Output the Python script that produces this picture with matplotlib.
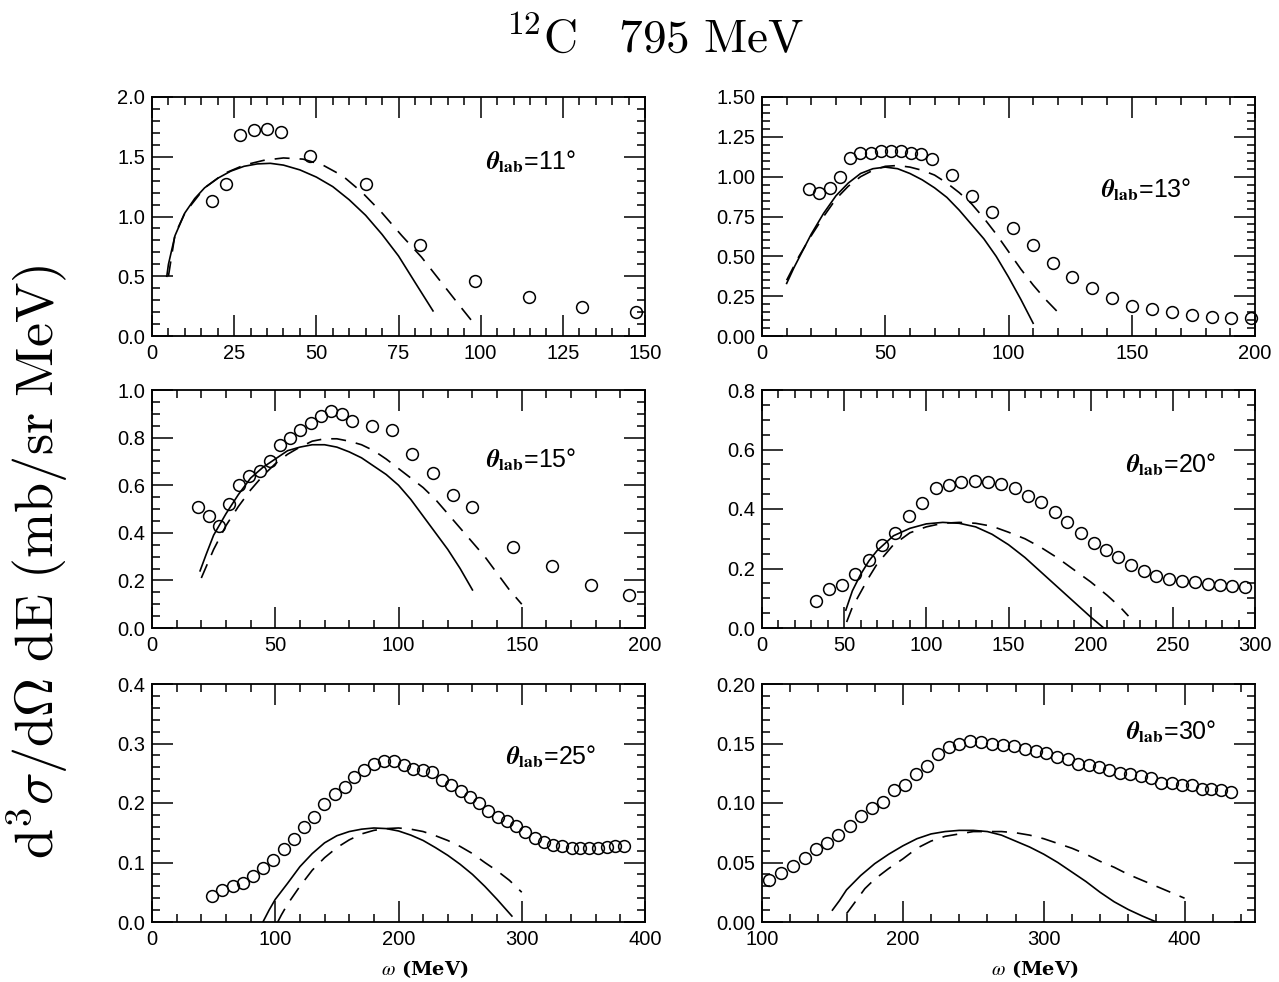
import numpy as np
import matplotlib
matplotlib.use('Agg')
import matplotlib.pyplot as plt
from matplotlib.ticker import MultipleLocator, FormatStrFormatter

plt.rcParams['mathtext.fontset'] = 'stix'
plt.rcParams['font.family'] = 'Liberation Sans'

# ---- 11 deg ----
w11 = [18.3, 22.6, 26.9, 30.9, 35.1, 39.4, 48.1, 65.0, 81.4, 98.3, 114.7, 130.9, 147.4]
d11 = [1.13, 1.27, 1.68, 1.72, 1.73, 1.71, 1.51, 1.27, 0.76, 0.46, 0.33, 0.24, 0.20]
sw11 = [4.5, 5, 7, 10, 13, 16, 20, 24, 28, 32, 36, 40, 45, 50, 55, 60, 65, 70, 75, 80, 85.5]
sy11 = [0.5, 0.6, 0.84, 1.03, 1.15, 1.24, 1.32, 1.38, 1.42, 1.44, 1.445, 1.43, 1.39, 1.33, 1.25,
        1.14, 1.01, 0.85, 0.67, 0.45, 0.21]
dw11 = [5, 7, 10, 16, 22, 28, 34, 40, 46, 52, 58, 64, 70, 76, 82, 88, 94, 97.5]
dy11 = [0.5, 0.85, 1.03, 1.24, 1.36, 1.43, 1.47, 1.49, 1.48, 1.43, 1.34, 1.20, 1.03, 0.84,
        0.66, 0.45, 0.24, 0.12]

# ---- 13 deg ----
w13 = [19.2, 23.3, 27.5, 31.7, 35.7, 39.9, 44.1, 48.3, 52.4, 56.5, 60.5, 64.7, 68.8, 76.9,
       85.0, 93.2, 101.7, 109.8, 117.9, 125.8, 133.9, 142.0, 150.0, 158.1, 166.2, 174.3,
       182.4, 190.4, 198.5]
d13 = [0.92, 0.90, 0.93, 1.00, 1.12, 1.15, 1.15, 1.16, 1.16, 1.16, 1.15, 1.14, 1.11, 1.01,
       0.88, 0.78, 0.68, 0.57, 0.46, 0.37, 0.30, 0.24, 0.19, 0.17, 0.15, 0.13, 0.12, 0.11, 0.11]
sw13 = [10, 13, 16, 20, 25, 30, 35, 40, 45, 50, 55, 60, 65, 70, 75, 80, 85, 90, 95, 100, 105, 110]
sy13 = [0.33, 0.43, 0.52, 0.64, 0.77, 0.88, 0.96, 1.02, 1.05, 1.06, 1.05, 1.02, 0.98, 0.93,
        0.87, 0.79, 0.70, 0.61, 0.50, 0.37, 0.23, 0.08]
dw13 = [10, 15, 20, 25, 30, 35, 40, 45, 50, 55, 60, 65, 70, 75, 80, 85, 90, 95, 100, 105,
        110, 115, 120]
dy13 = [0.35, 0.50, 0.63, 0.75, 0.86, 0.94, 1.00, 1.04, 1.065, 1.07, 1.06, 1.04, 1.01, 0.96,
        0.90, 0.83, 0.74, 0.64, 0.53, 0.42, 0.32, 0.23, 0.15]

# ---- 15 deg ----
w15 = [18.7, 23.0, 27.1, 31.2, 35.4, 39.5, 43.8, 47.9, 52.0, 56.1, 60.2, 64.4, 68.5, 72.8,
       76.9, 81.0, 89.2, 97.4, 105.6, 113.8, 122.0, 130.0, 146.3, 162.2, 177.9, 193.7]
d15 = [0.51, 0.47, 0.43, 0.52, 0.60, 0.64, 0.66, 0.70, 0.77, 0.80, 0.83, 0.86, 0.89, 0.91,
       0.90, 0.87, 0.85, 0.83, 0.73, 0.65, 0.56, 0.51, 0.34, 0.26, 0.18, 0.14]
sw15 = [19.5, 22, 25, 30, 35, 40, 45, 50, 55, 60, 65, 70, 75, 80, 85, 90, 95, 100, 105, 110,
        115, 120, 125, 130]
sy15 = [0.24, 0.31, 0.39, 0.48, 0.56, 0.63, 0.675, 0.71, 0.745, 0.76, 0.77, 0.77, 0.76, 0.74,
        0.715, 0.68, 0.645, 0.60, 0.54, 0.47, 0.40, 0.33, 0.25, 0.16]
dw15 = [20, 25, 30, 35, 40, 45, 50, 55, 60, 65, 70, 75, 80, 85, 90, 95, 100, 105, 110, 115,
        120, 125, 130, 135, 140, 145, 150]
dy15 = [0.21, 0.33, 0.43, 0.51, 0.58, 0.64, 0.69, 0.73, 0.76, 0.785, 0.795, 0.795, 0.785,
        0.77, 0.745, 0.71, 0.67, 0.63, 0.59, 0.54, 0.48, 0.42, 0.36, 0.30, 0.23, 0.16, 0.10]

# ---- 20 deg ----
w20 = [32.7, 40.5, 48.5, 56.8, 64.9, 72.9, 81.2, 89.3, 97.3, 105.6, 113.6, 121.3, 129.8,
       137.8, 145.6, 153.9, 161.9, 169.8, 178.0, 185.9, 194.0, 202.0, 209.4, 216.8, 224.4,
       232.4, 240.0, 247.9, 255.7, 263.5, 271.4, 278.7, 285.9, 293.9]
d20 = [0.09, 0.13, 0.146, 0.18, 0.23, 0.28, 0.32, 0.376, 0.42, 0.47, 0.48, 0.49, 0.494,
       0.49, 0.485, 0.47, 0.444, 0.424, 0.39, 0.356, 0.318, 0.287, 0.262, 0.238, 0.213,
       0.19, 0.174, 0.165, 0.157, 0.153, 0.147, 0.145, 0.142, 0.138]
sw20 = [51, 55, 60, 65, 70, 75, 80, 90, 100, 110, 120, 130, 140, 150, 160, 170, 180, 190, 200, 208]
sy20 = [0.06, 0.125, 0.18, 0.225, 0.26, 0.285, 0.31, 0.335, 0.35, 0.355, 0.352, 0.34, 0.315,
        0.28, 0.237, 0.187, 0.137, 0.087, 0.037, 0.0]
dw20 = [51.5, 55, 60, 65, 70, 80, 90, 100, 110, 120, 130, 140, 150, 160, 170, 180, 190, 200,
        210, 218, 223]
dy20 = [0.02, 0.07, 0.12, 0.17, 0.215, 0.28, 0.32, 0.34, 0.352, 0.355, 0.352, 0.342, 0.322,
        0.30, 0.27, 0.235, 0.195, 0.155, 0.11, 0.07, 0.04]

# ---- 25 deg ----
w25 = [48.4, 56.6, 65.4, 73.9, 82.1, 90.3, 98.5, 107.0, 115.2, 123.5, 131.7, 139.9, 148.1,
       156.3, 164.2, 172.4, 180.4, 188.3, 196.2, 204.1, 212.0, 219.6, 227.3, 235.2, 242.8,
       250.7, 258.1, 265.4, 273.0, 280.6, 288.0, 295.3, 302.9, 310.8, 318.2, 325.5, 332.8,
       340.5, 347.5, 354.8, 362.2, 368.9, 376.0, 382.7]
d25 = [0.044, 0.053, 0.060, 0.065, 0.077, 0.091, 0.105, 0.122, 0.14, 0.159, 0.176, 0.199,
       0.215, 0.227, 0.244, 0.256, 0.266, 0.271, 0.270, 0.264, 0.257, 0.256, 0.252, 0.238,
       0.230, 0.221, 0.210, 0.200, 0.187, 0.176, 0.170, 0.162, 0.151, 0.141, 0.134, 0.130,
       0.127, 0.125, 0.124, 0.124, 0.125, 0.126, 0.128, 0.128]
sw25 = [90, 95, 100, 110, 120, 130, 140, 150, 160, 170, 180, 190, 200, 210, 220, 230, 240,
        250, 260, 270, 280, 292]
sy25 = [0.0, 0.02, 0.038, 0.065, 0.093, 0.115, 0.133, 0.145, 0.152, 0.156, 0.158, 0.157,
        0.153, 0.146, 0.137, 0.125, 0.112, 0.097, 0.080, 0.060, 0.038, 0.01]
dw25 = [102, 105, 110, 120, 130, 140, 150, 160, 170, 180, 190, 200, 210, 220, 230, 240, 250,
        260, 270, 280, 290, 300]
dy25 = [0.0, 0.012, 0.03, 0.06, 0.087, 0.108, 0.125, 0.138, 0.148, 0.154, 0.157, 0.158,
        0.156, 0.152, 0.145, 0.137, 0.127, 0.115, 0.100, 0.086, 0.070, 0.05]

# ---- 30 deg ----
w30 = [104.7, 113.7, 122.1, 130.3, 138.5, 146.4, 154.3, 162.2, 170.1, 177.8, 185.7, 193.6,
       201.5, 209.4, 217.3, 225.2, 232.6, 240.2, 247.9, 255.5, 263.4, 271.3, 278.9, 286.6,
       294.2, 301.9, 309.5, 317.2, 324.6, 332.0, 339.3, 346.7, 354.1, 361.5, 368.8, 376.2,
       383.6, 391.0, 398.4, 405.2, 412.1, 419.0, 425.8, 432.7]
d30 = [0.035, 0.041, 0.047, 0.054, 0.061, 0.066, 0.073, 0.081, 0.089, 0.096, 0.101, 0.111,
       0.115, 0.124, 0.131, 0.141, 0.147, 0.150, 0.152, 0.151, 0.150, 0.149, 0.148, 0.145,
       0.144, 0.142, 0.139, 0.137, 0.133, 0.132, 0.130, 0.128, 0.125, 0.124, 0.123, 0.121,
       0.117, 0.117, 0.115, 0.115, 0.112, 0.112, 0.111, 0.109]
sw30 = [150, 155, 160, 170, 180, 190, 200, 210, 220, 230, 240, 250, 260, 270, 280, 290, 300,
        310, 320, 330, 340, 350, 360, 370, 380]
sy30 = [0.01, 0.018, 0.027, 0.039, 0.049, 0.057, 0.064, 0.070, 0.074, 0.076, 0.077, 0.077,
        0.076, 0.073, 0.068, 0.063, 0.057, 0.050, 0.042, 0.034, 0.025, 0.017, 0.0105, 0.005, 0.0]
dw30 = [160, 165, 173, 180, 190, 200, 210, 220, 230, 240, 250, 260, 270, 280, 290, 300, 310,
        320, 330, 340, 350, 360, 370, 380, 390, 400]
dy30 = [0.007, 0.015, 0.028, 0.036, 0.045, 0.053, 0.062, 0.068, 0.072, 0.074, 0.076, 0.076,
        0.076, 0.075, 0.073, 0.070, 0.066, 0.062, 0.057, 0.051, 0.046, 0.040, 0.035, 0.030,
        0.025, 0.020]

W, H = 1279, 982
fig = plt.figure(figsize=(W / 100, H / 100), dpi=100)


def panel(px, py, pw, ph, xw, xd, sw, sy, dw, dy, xlim, ylim, xmaj, xmin, ymaj, ymin,
          yfmt, label, lx, ly, xlabel=False):
    ax = fig.add_axes([px / W, 1 - (py + ph) / H, pw / W, ph / H])
    ax.plot(sw, sy, '-', color='k', lw=1.2)
    ax.plot(dw, dy, '--', color='k', lw=1.2, dashes=(9, 6))
    ax.plot(xw, xd, 'o', mfc='none', mec='k', ms=8.5, mew=1.1, clip_on=False)
    ax.set_xlim(*xlim)
    ax.set_ylim(*ylim)
    ax.xaxis.set_major_locator(MultipleLocator(xmaj))
    ax.xaxis.set_minor_locator(MultipleLocator(xmin))
    ax.yaxis.set_major_locator(MultipleLocator(ymaj))
    ax.yaxis.set_minor_locator(MultipleLocator(ymin))
    ax.yaxis.set_major_formatter(FormatStrFormatter(yfmt))
    ax.tick_params(which='both', direction='in', top=True, right=True, width=1.1,
                   labelsize=14.5)
    ax.tick_params(which='major', length=15)
    ax.tick_params(which='minor', length=6)
    ax.tick_params(axis='x', which='major', pad=6)
    ax.tick_params(axis='y', which='major', pad=5)
    for s in ax.spines.values():
        s.set_linewidth(1.3)
    ax.text(lx, ly, label, transform=ax.transAxes, ha='center', va='center', fontsize=18)
    if xlabel:
        ax.set_xlabel(r'$\omega$ (MeV)', fontsize=14, fontweight='bold',
                      family='DejaVu Serif')
        ax.xaxis.set_label_coords(0.554, -0.15)
    return ax


L, R, PW = 152, 762, 493
panel(L, 97, PW, 239, w11, d11, sw11, sy11, dw11, dy11, (0, 150), (0, 2.0), 25, 5, 0.5, 0.1,
      '%.1f', r'$\boldsymbol{\theta}_{\mathbf{lab}}$=11°', 0.77, 0.73)
panel(R, 97, PW, 239, w13, d13, sw13, sy13, dw13, dy13, (0, 200), (0, 1.5), 50, 10, 0.25, 0.05,
      '%.2f', r'$\boldsymbol{\theta}_{\mathbf{lab}}$=13°', 0.78, 0.61)
panel(L, 390, PW, 238, w15, d15, sw15, sy15, dw15, dy15, (0, 200), (0, 1.0), 50, 10, 0.2, 0.05,
      '%.1f', r'$\boldsymbol{\theta}_{\mathbf{lab}}$=15°', 0.77, 0.705)
panel(R, 390, PW, 238, w20, d20, sw20, sy20, dw20, dy20, (0, 300), (0, 0.8), 50, 10, 0.2, 0.05,
      '%.1f', r'$\boldsymbol{\theta}_{\mathbf{lab}}$=20°', 0.83, 0.685)
panel(L, 684, PW, 238, w25, d25, sw25, sy25, dw25, dy25, (0, 400), (0, 0.4), 100, 20, 0.1, 0.02,
      '%.1f', r'$\boldsymbol{\theta}_{\mathbf{lab}}$=25°', 0.81, 0.695, xlabel=True)
panel(R, 684, PW, 238, w30, d30, sw30, sy30, dw30, dy30, (100, 450), (0, 0.2), 100, 20, 0.05, 0.01,
      '%.2f', r'$\boldsymbol{\theta}_{\mathbf{lab}}$=30°', 0.83, 0.80, xlabel=True)

# title and shared y label in Computer Modern
fig.text(0.512, 0.959, r'$^{12}\mathrm{C}\ \ \ \mathrm{795\ MeV}$', ha='center', va='center',
         fontsize=34, math_fontfamily='cm')
fig.text(0.030, 0.428, r'$\mathrm{d}^3\sigma/\mathrm{d}\Omega\ \mathrm{dE}\ \mathrm{(mb/sr\ MeV)}$',
         rotation=90, ha='center', va='center', fontsize=39, math_fontfamily='cm')

fig.savefig('out.png', dpi=100)
